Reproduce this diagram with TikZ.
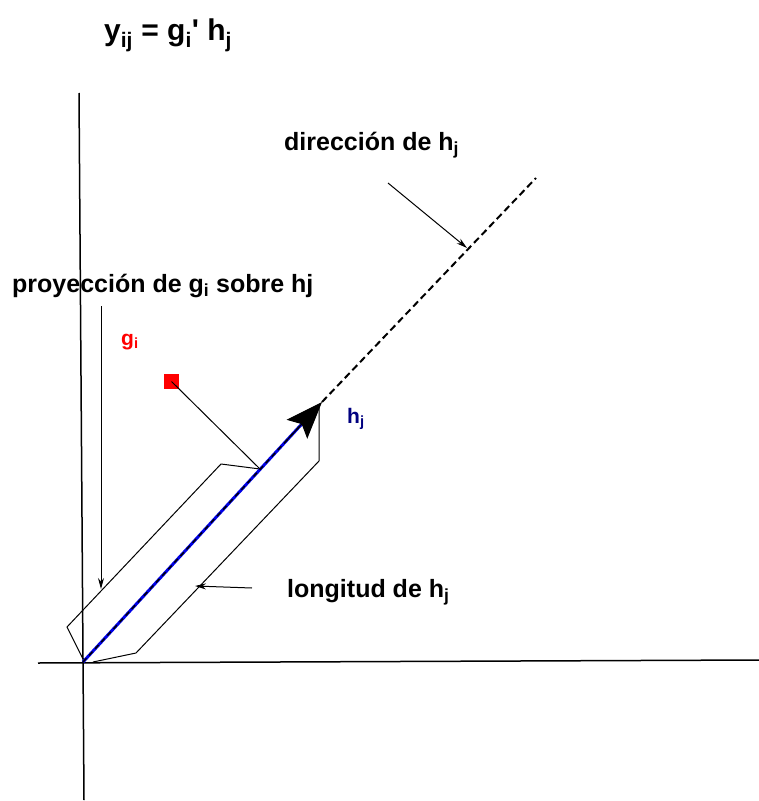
\documentclass[tikz,border=0pt]{standalone}
\usepackage{fontspec}
\setmainfont{Liberation Sans}
\newfontfamily\plainsans{Liberation Sans}
\usetikzlibrary{arrows.meta}
\definecolor{hjnavy}{RGB}{0,0,128}
\definecolor{hjblue}{RGB}{0,0,230}
\tikzset{
  lbl/.style={anchor=base west, inner sep=0pt, font=\fontsize{25bp}{29bp}\selectfont\bfseries},
  axis/.style={line width=1.5bp, black},
  thin/.style={line width=1bp, black},
  pointer/.style={line width=1bp, black, -{Stealth[length=11bp,width=6bp]}},
}
\begin{document}
\begin{tikzpicture}[x=1bp,y=-1bp]
\useasboundingbox (0,0) rectangle (759,801);
% coordinates
\coordinate (O) at (83,662);
\coordinate (vtop) at (79,93);
\coordinate (vbot) at (84,800);
\coordinate (hleft) at (38,663);
\coordinate (hright) at (759,660);
\coordinate (tip) at (322,402);
\coordinate (dirend) at (536,178);
\coordinate (foot) at (260,469);
\coordinate (gpt) at (171.5,381.5);
% axes
\draw[axis] (vtop) -- (vbot);
\draw[axis] (hleft) -- (hright);
% projection bracket (left)
\draw[thin] (83,659) -- (67,627) -- (221,464) -- (foot);
% length bracket (right)
\draw[thin] (93,662) -- (136,653) -- (319,461) -- (319,407);
% direction dashed line
\draw[line width=2bp, dash pattern=on 7bp off 4bp] (tip) -- (dirend);
% h_j vector
\draw[line width=3bp, hjblue, shorten >=20bp] (O) -- (tip);
\draw[line width=1.4bp, black, dash pattern=on 5bp off 4bp, shorten >=20bp] (O) -- (tip);
\path (O) -- (tip) coordinate[pos=0.85] (hmid);
\draw[-{Stealth[length=37bp,width=28bp,inset=7bp]}, line width=1bp] (hmid) -- (tip);
% g_i point
\node[fill=red, minimum size=15bp, inner sep=0pt] (gsq) at (gpt) {};
\draw[thin] (gpt) -- (foot);
% labels
\node[lbl, font=\plainsans\fontsize{30bp}{34bp}\selectfont\bfseries] (title) at (104,41) {y\textsubscript{ij} = g\textsubscript{i}' h\textsubscript{j}};
\node[lbl] (dir) at (284,150) {dirección de h\textsubscript{j}};
\node[lbl] (proy) at (12,292) {proyección de g\textsubscript{i} sobre hj};
\node[lbl] (lon) at (287,597) {longitud de h\textsubscript{j}};
\node[lbl, text=red, font=\fontsize{21bp}{25bp}\selectfont\bfseries] (gl) at (121,345) {g\textsubscript{i}};
\node[lbl, text=hjnavy, font=\fontsize{21bp}{25bp}\selectfont\bfseries] (hl) at (347,423) {h\textsubscript{j}};
% pointers
\coordinate (p1s) at (388,183); \coordinate (p1e) at (467,248);
\draw[pointer] (p1s) -- (p1e);
\coordinate (p2s) at (101,306); \coordinate (p2e) at (101,589);
\draw[pointer] (p2s) -- (p2e);
\coordinate (p3s) at (252,588); \coordinate (p3e) at (195,586);
\draw[pointer] (p3s) -- (p3e);
\end{tikzpicture}
\end{document}
